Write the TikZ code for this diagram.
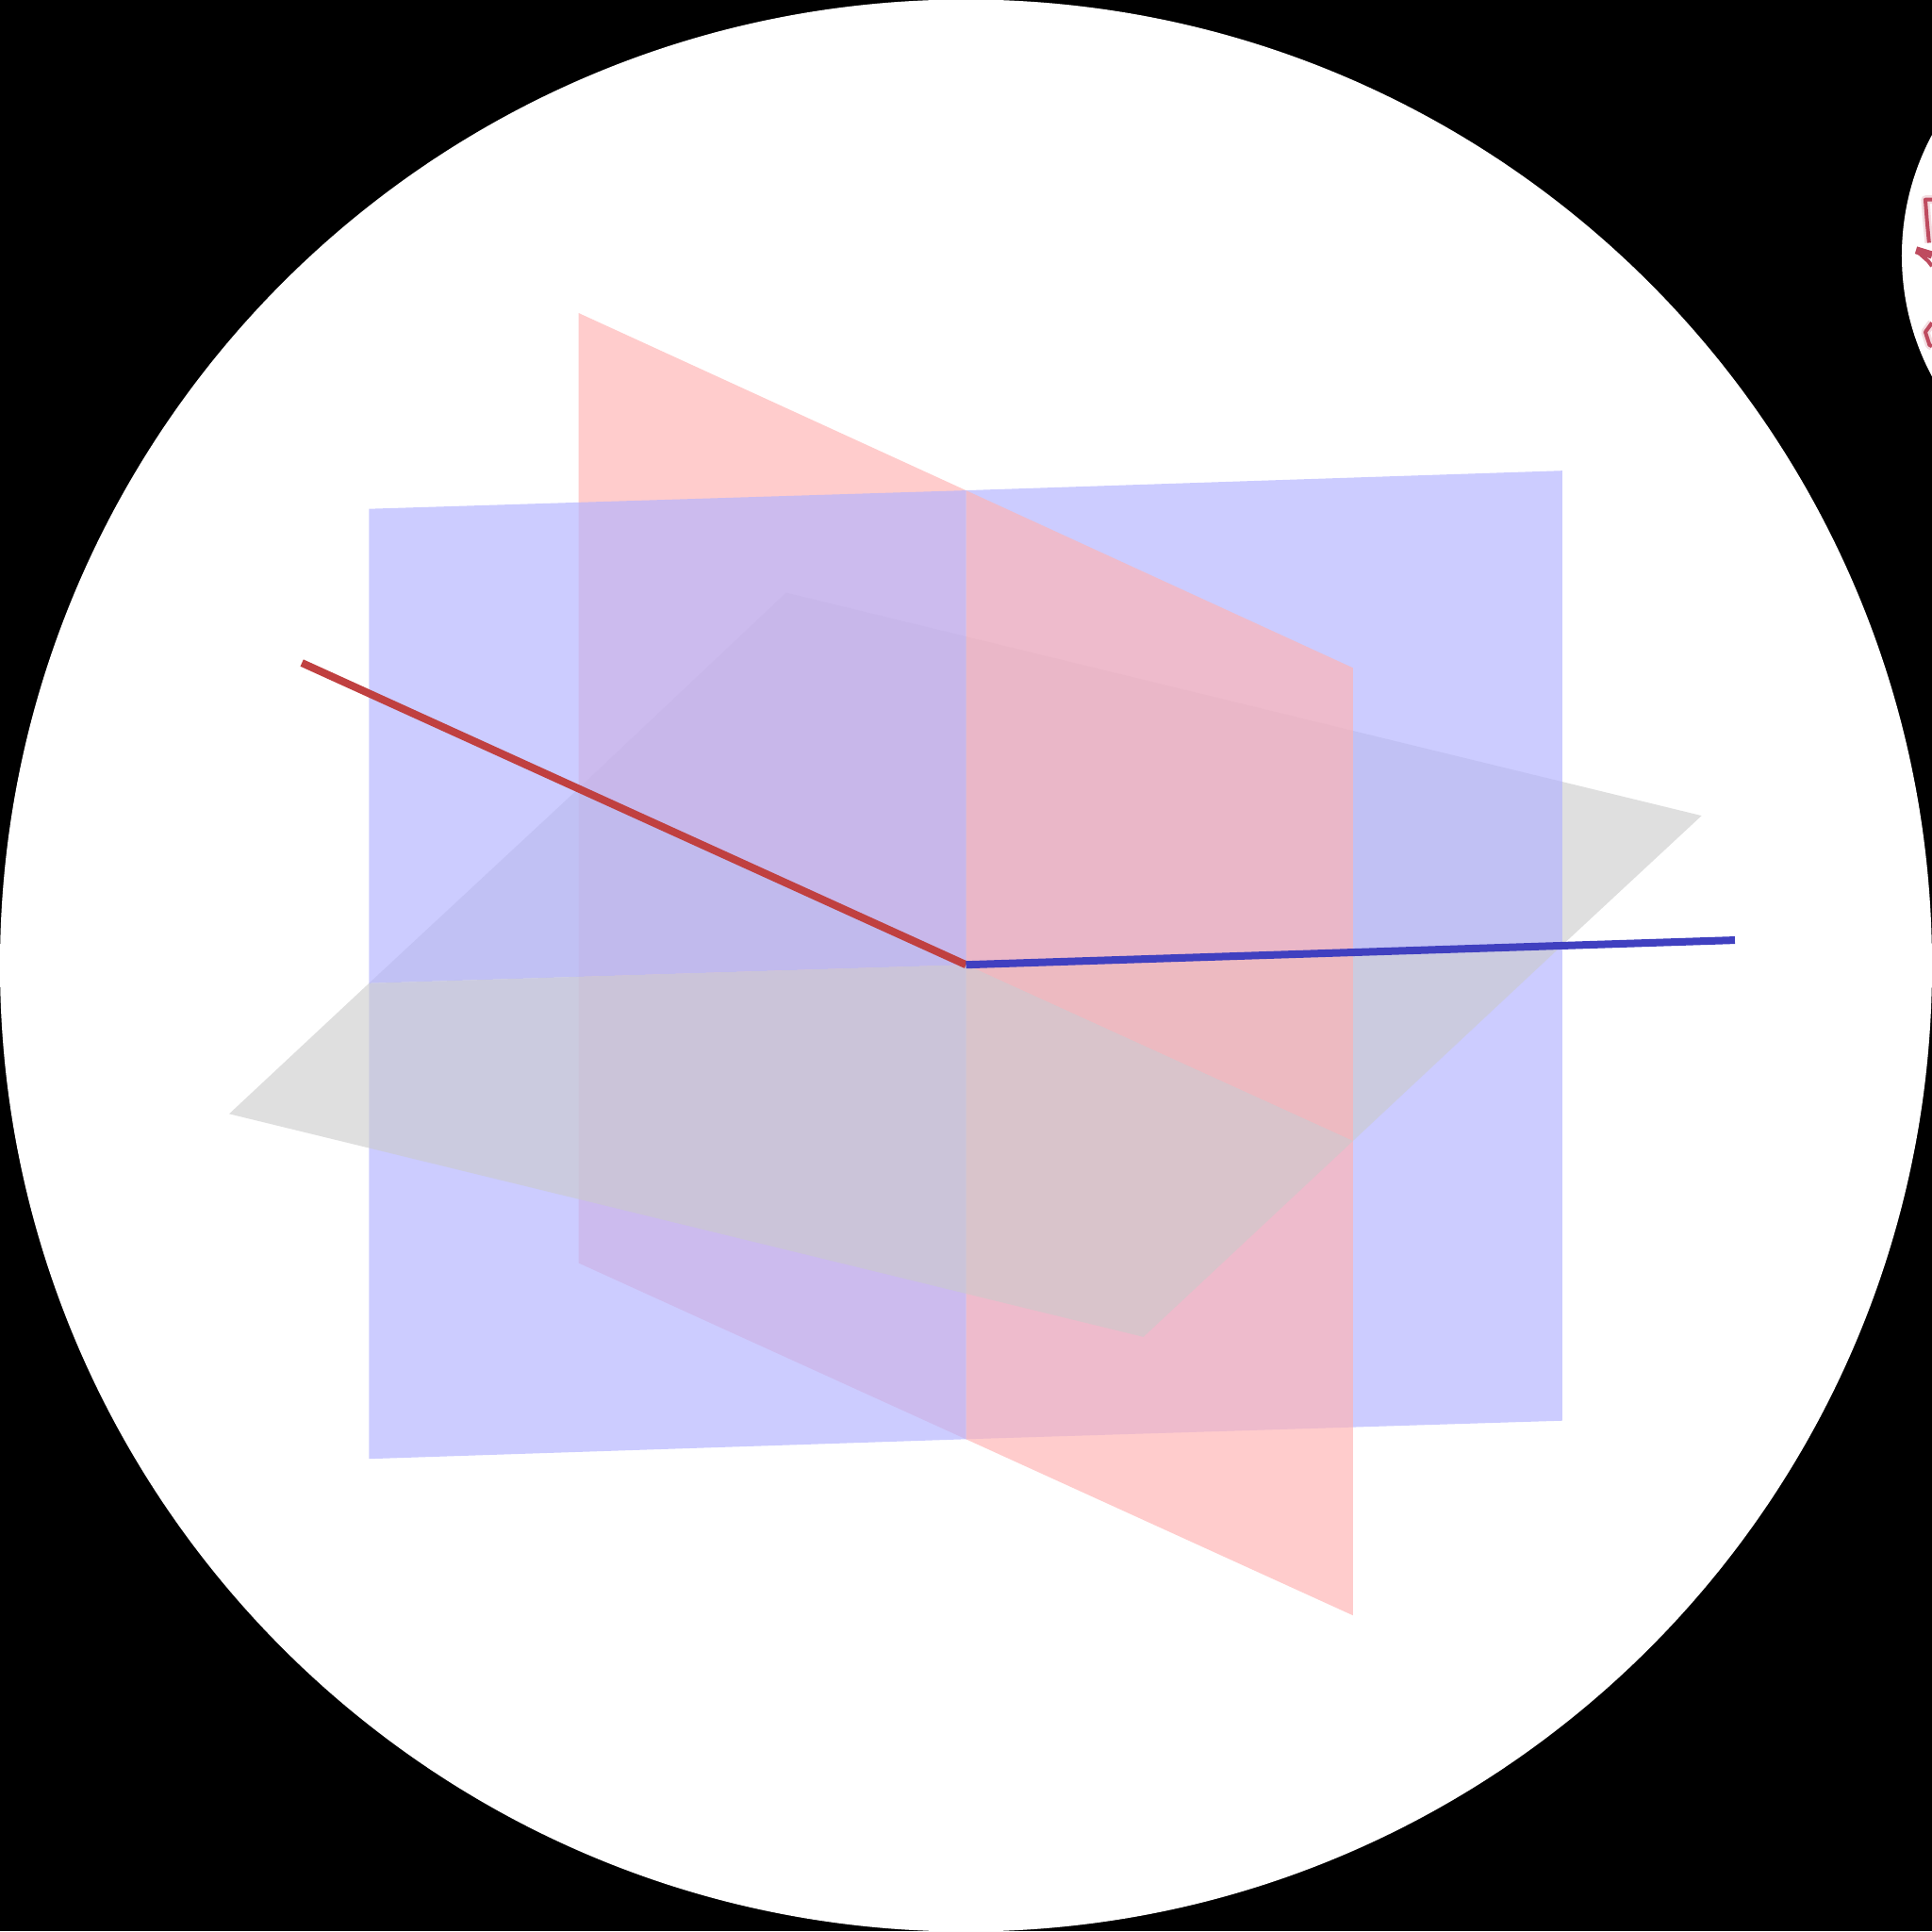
\documentclass[tikz,border=0pt]{standalone}
\tikzset{
  redpl/.style={fill=redc,fill opacity=0.67,draw=none},
  bluepl/.style={fill=bluec,fill opacity=0.67,draw=none},
  graypl/.style={fill=grayc,fill opacity=0.6,draw=none},
  redline/.style={draw=redl,line width=0.08cm},
  blueline/.style={draw=bluel,line width=0.08cm},
  sketchhalo/.style={draw=redh,line width=0.09cm,line join=round},
  sketch/.style={draw=reds,line width=0.04cm,line join=round},
  sketchbold/.style={draw=reds,line width=0.08cm,line join=round}
}
\definecolor{redc}{RGB}{255,179,179}
\definecolor{bluec}{RGB}{179,179,255}
\definecolor{grayc}{RGB}{203,203,203}
\definecolor{redl}{RGB}{192,64,64}
\definecolor{bluel}{RGB}{64,64,192}
\definecolor{reds}{RGB}{190,75,95}
\definecolor{redh}{RGB}{243,220,224}
\begin{document}
\begin{tikzpicture}[x=0.0130676cm,y=-0.0130676cm]
\useasboundingbox (0,0) rectangle (1568,1567.3);
\fill[black] (0,0) rectangle (1568,1567.3);
\clip (0,0) rectangle (1568,1567.3);
\fill[white] (1751.5,207.5) circle [radius=208];
\draw[sketchhalo] (1568,162)--(1562.6,162)--(1564,180)--(1565.6,197);
\draw[sketchhalo] (1568,262)--(1562.6,269.5)--(1566,280)--(1568,281);
\draw[sketch] (1568,162)--(1562.6,162)--(1564,180)--(1565.6,197);
\draw[sketchbold] (1555,203)--(1568,207);
\draw[sketch] (1556,204)--(1565,212)--(1568,216);
\draw[sketch] (1568,262)--(1562.6,269.5)--(1566,280)--(1568,281);
\fill[white] (784,783.6) circle [radius=784];
\coordinate (O) at (784,783);
\coordinate (rt) at (784,398);
\coordinate (rb) at (784,1168);
\coordinate (rl) at (469.5,640);
\coordinate (rr) at (1098,926);
\coordinate (bl) at (299.5,798);
\coordinate (br) at (1268,767);
% back pieces
\fill[bluepl] (O)--(br)--(1268,1153)--(rb)--cycle;
\fill[redpl] (rl)--(O)--(rb)--(469.5,1025)--cycle;
\fill[graypl] (O)--(rl)--(638,481)--(1381,662)--(br)--cycle;
% middle pieces
\fill[redpl] (O)--(rr)--(1098,1311)--(rb)--cycle;
\fill[graypl] (O)--(br)--(rr)--cycle;
\fill[bluepl] (bl)--(O)--(rb)--(299.5,1184)--cycle;
\fill[graypl] (O)--(bl)--(rl)--cycle;
\fill[bluepl] (rt)--(1268,382)--(br)--(O)--cycle;
\fill[redpl] (469.5,254)--(rt)--(O)--(rl)--cycle;
% front pieces
\fill[redpl] (rt)--(1098,542)--(rr)--(O)--cycle;
\fill[bluepl] (299.5,413)--(rt)--(O)--(bl)--cycle;
\fill[graypl] (O)--(rr)--(928,1085)--(186,904)--(bl)--cycle;
% axes
\coordinate (redend) at (245,538);
\coordinate (blueend) at (1408,763);
\draw[redline] (redend)--(O);
\draw[blueline] (O)--(blueend);
\end{tikzpicture}
\end{document}
